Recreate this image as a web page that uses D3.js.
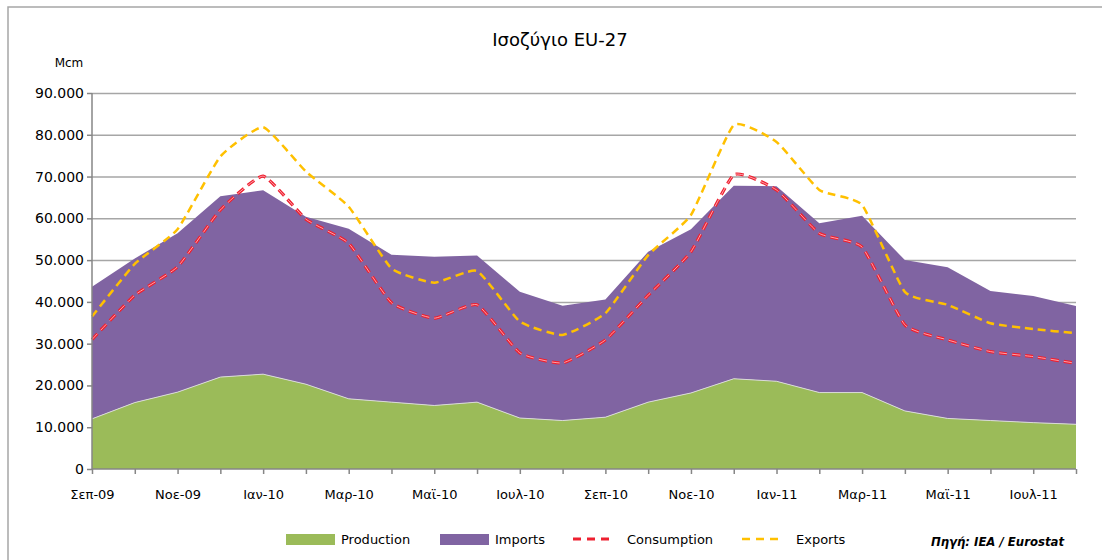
<!DOCTYPE html>
<html>
<head>
<meta charset="utf-8">
<script src="https://cdn.jsdelivr.net/npm/d3@7"></script>
<style>
  body { margin: 0; background: #fff; }
  text { font-family: "DejaVu Sans", sans-serif; fill: #000; }
</style>
</head>
<body>
<div id="chart"></div>
<script>
// monthly data, Mcm
let months = ["Σεπ-09", "Οκτ-09", "Νοε-09", "Δεκ-09", "Ιαν-10", "Φεβ-10", "Μαρ-10", "Απρ-10",
    "Μαϊ-10", "Ιουν-10", "Ιουλ-10", "Αυγ-10", "Σεπ-10", "Οκτ-10", "Νοε-10", "Δεκ-10",
    "Ιαν-11", "Φεβ-11", "Μαρ-11", "Απρ-11", "Μαϊ-11", "Ιουν-11", "Ιουλ-11", "Αυγ-11"];

let production = [12000, 15900, 18400, 22000, 22700, 20300, 16800, 16000, 15200, 16000, 12200, 11600,
    12400, 16000, 18200, 21600, 21000, 18300, 18300, 13900, 12100, 11600, 11100, 10700];
let imports = [31600, 34500, 38000, 43300, 44000, 40100, 40700, 35300, 35600, 35100, 30200, 27500,
    28200, 36000, 39200, 46200, 46700, 40500, 42300, 36100, 36200, 31000, 30300, 28300];
let consumption = [31000, 41600, 48400, 62000, 70100, 59800, 54000, 39800, 36100, 39300, 27800, 25400,
    30900, 41600, 52000, 70400, 66800, 56400, 53100, 34500, 30900, 28100, 26900, 25300];
let exports = [36500, 49100, 57400, 74800, 81800, 71200, 62800, 48000, 44600, 47400, 35300, 32100,
    37300, 51200, 60800, 82300, 78300, 66800, 63200, 42400, 39300, 34900, 33500, 32500];

let yTicks = [0, 10000, 20000, 30000, 40000, 50000, 60000, 70000, 80000, 90000];

let width = 1102, height = 560;
let plotLeft = 92, plotRight = 1076, plotTop = 93, plotBottom = 469;

let svg = d3.select("#chart")
    .append("svg")
    .attr("width", width)
    .attr("height", height);

// outer frame
svg.append("rect")
    .attr("x", 8)
    .attr("y", 7)
    .attr("width", 1110)
    .attr("height", 570)
    .style("fill", "none")
    .style("stroke", "#a6a6a6")
    .style("stroke-width", 1.5);

let xScale = d3.scalePoint()
    .domain(months)
    .range([plotLeft, plotRight]);

let yScale = d3.scaleLinear()
    .domain([0, 90000])
    .range([plotBottom, plotTop]);

let grFormat = d3.formatLocale({decimal: ",", thousands: ".", grouping: [3], currency: ["", "€"]}).format(",");

// gridlines
svg.append("g")
    .attr("class", "grid")
    .attr("transform", "translate(" + plotLeft + ",0)")
    .call(d3.axisLeft(yScale)
        .tickValues(yTicks.slice(1))
        .tickSize(-(plotRight - plotLeft))
        .tickFormat(""))
    .call(g => g.select(".domain").remove())
    .selectAll("line")
    .style("stroke", "#a6a6a6")
    .style("stroke-width", 1.5);

// stacked areas
let rows = months.map((m, i) => ({month: m, production: production[i], imports: imports[i]}));
let stack = d3.stack().keys(["production", "imports"]);
let layers = stack(rows);
let areaColors = {production: "#9bbb59", imports: "#8064a2"};

let area = d3.area()
    .x(d => xScale(d.data.month))
    .y0(d => yScale(d[0]))
    .y1(d => yScale(d[1]));

svg.selectAll(".layer")
    .data(layers.slice().reverse())
    .enter()
    .append("path")
    .attr("class", "layer")
    .attr("d", area)
    .style("fill", d => areaColors[d.key]);

// thin light edge on top of production
svg.append("path")
    .attr("d", d3.line()
        .x((d, i) => xScale(months[i]))
        .y(d => yScale(d))(production))
    .style("fill", "none")
    .style("stroke", "#d9d9d9")
    .style("stroke-width", 1);

// lines (Excel-like light smoothing)
let line = d3.line()
    .x((d, i) => xScale(months[i]))
    .y(d => yScale(d))
    .curve(d3.curveCardinal.tension(0.55));

svg.append("path")
    .attr("d", line(exports))
    .style("fill", "none")
    .style("stroke", "#ffc000")
    .style("stroke-width", 2.5)
    .style("stroke-dasharray", "8,5");

svg.append("path")
    .attr("d", line(consumption))
    .style("fill", "none")
    .style("stroke", "#ee2030")
    .style("stroke-width", 3.2)
    .style("stroke-dasharray", "8,5");

svg.append("path")
    .attr("d", line(consumption))
    .style("fill", "none")
    .style("stroke", "#ffb0b8")
    .style("stroke-width", 0.9)
    .style("stroke-dasharray", "8,5");

// axes
let xAxis = svg.append("g")
    .attr("transform", "translate(0," + plotBottom + ")")
    .call(d3.axisBottom(xScale)
        .tickSize(5)
        .tickFormat((d, i) => i % 2 == 0 ? d : ""));

xAxis.selectAll("line, path").style("stroke", "#868686").style("stroke-width", 1.5);
xAxis.select(".domain").attr("d", "M" + plotLeft + ",0H" + plotRight);
xAxis.selectAll("text")
    .attr("y", 21)
    .style("font-size", "13px")
    .style("font-family", "DejaVu Sans, sans-serif");

let yAxis = svg.append("g")
    .attr("transform", "translate(" + plotLeft + ",0)")
    .call(d3.axisLeft(yScale)
        .tickValues(yTicks)
        .tickSize(5)
        .tickFormat(grFormat));

yAxis.selectAll("line, path").style("stroke", "#868686").style("stroke-width", 1.5);
yAxis.select(".domain").attr("d", "M0," + plotBottom + "V" + plotTop);
yAxis.selectAll("text")
    .attr("x", -8)
    .style("font-size", "14px")
    .style("font-family", "DejaVu Sans, sans-serif");

// title and unit
svg.append("text")
    .attr("x", 560)
    .attr("y", 46)
    .attr("text-anchor", "middle")
    .style("font-size", "18px")
    .text("Ισοζύγιο EU-27");

svg.append("text")
    .attr("x", 69)
    .attr("y", 67)
    .attr("text-anchor", "middle")
    .style("font-size", "12px")
    .text("Mcm");

// legend
let legendItems = [
    {name: "Production", type: "area", color: "#9bbb59", x: 286},
    {name: "Imports", type: "area", color: "#8064a2", x: 440},
    {name: "Consumption", type: "line", color: "#ee2030", x: 573},
    {name: "Exports", type: "line", color: "#ffc000", x: 742}
];

let legend = svg.selectAll(".legend")
    .data(legendItems)
    .enter()
    .append("g")
    .attr("class", "legend")
    .attr("transform", d => "translate(" + d.x + ",539)");

legend.filter(d => d.type == "area")
    .append("rect")
    .attr("x", 0)
    .attr("y", -5)
    .attr("width", 49)
    .attr("height", 11)
    .style("fill", d => d.color);

legend.filter(d => d.type == "line")
    .append("line")
    .attr("x1", 0)
    .attr("x2", 41)
    .attr("y1", 0)
    .attr("y2", 0)
    .style("stroke", d => d.color)
    .style("stroke-width", d => d.name == "Exports" ? 2.5 : 3)
    .style("stroke-dasharray", "8,6");

legend.append("text")
    .attr("x", d => d.type == "area" ? 55 : 54)
    .attr("y", 5)
    .style("font-size", "13px")
    .text(d => d.name);

svg.append("text")
    .attr("x", 1064)
    .attr("y", 546)
    .attr("text-anchor", "end")
    .style("font-size", "13px")
    .style("font-weight", "bold")
    .style("font-style", "italic")
    .style("font-family", "'DejaVu Sans Condensed', 'Liberation Sans Narrow', sans-serif")
    .text("Πηγή: IEA /  Eurostat");
</script>
</body>
</html>
